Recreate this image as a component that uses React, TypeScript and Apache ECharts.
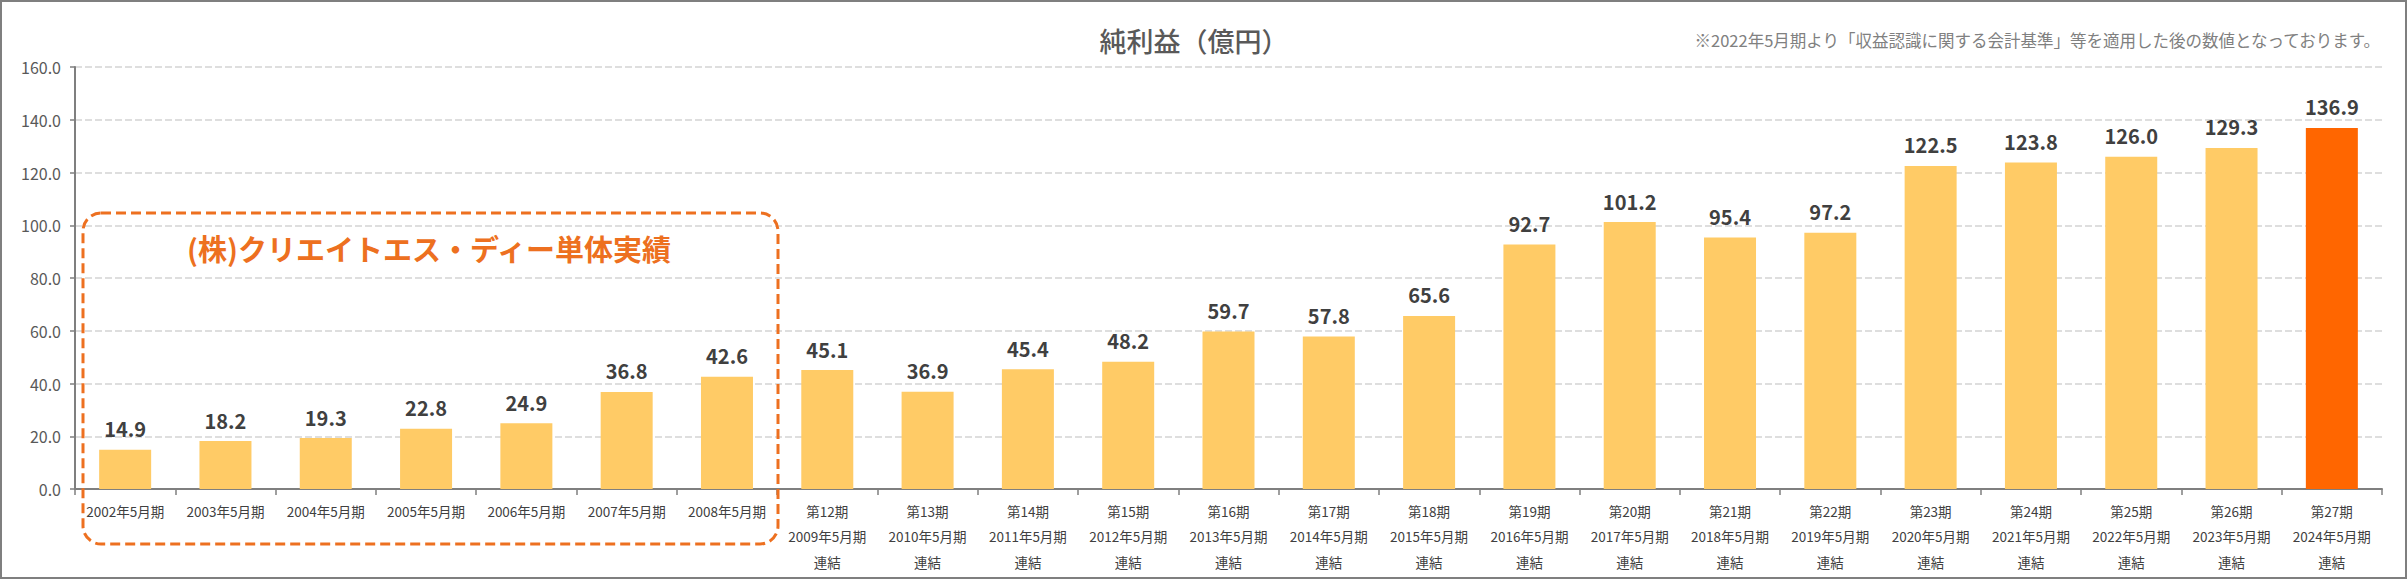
import React, { useEffect, useRef } from "react";
import * as echarts from "echarts";

const categories: string[] = [
  "2002年5月期",
  "2003年5月期",
  "2004年5月期",
  "2005年5月期",
  "2006年5月期",
  "2007年5月期",
  "2008年5月期",
  "第12期\n2009年5月期\n連結",
  "第13期\n2010年5月期\n連結",
  "第14期\n2011年5月期\n連結",
  "第15期\n2012年5月期\n連結",
  "第16期\n2013年5月期\n連結",
  "第17期\n2014年5月期\n連結",
  "第18期\n2015年5月期\n連結",
  "第19期\n2016年5月期\n連結",
  "第20期\n2017年5月期\n連結",
  "第21期\n2018年5月期\n連結",
  "第22期\n2019年5月期\n連結",
  "第23期\n2020年5月期\n連結",
  "第24期\n2021年5月期\n連結",
  "第25期\n2022年5月期\n連結",
  "第26期\n2023年5月期\n連結",
  "第27期\n2024年5月期\n連結",
];

const netIncome: number[] = [
  14.9, 18.2, 19.3, 22.8, 24.9, 36.8, 42.6, 45.1, 36.9, 45.4, 48.2, 59.7, 57.8,
  65.6, 92.7, 101.2, 95.4, 97.2, 122.5, 123.8, 126.0, 129.3, 136.9,
];

const titleText = "純利益（億円）";
const noteText =
  "※2022年5月期より「収益認識に関する会計基準」等を適用した後の数値となっております。";
const boxLabel = "(株)クリエイトエス・ディー単体実績";

const FONT = '"Noto Sans CJK JP", "Noto Sans", sans-serif';

export default function App() {
  const ref = useRef<HTMLDivElement>(null);

  useEffect(() => {
    if (!ref.current) return;
    const chart = echarts.init(ref.current, undefined, { renderer: "svg" });
    const last = netIncome.length - 1;
    chart.setOption({
      animation: false,
      textStyle: { fontFamily: FONT },
      grid: { left: 75, right: 25, top: 67, bottom: 90, containLabel: false },
      xAxis: {
        type: "category",
        data: categories,
        axisLine: { show: true, lineStyle: { color: "#7f7f7f", width: 2 } },
        axisTick: { show: true, length: 6, lineStyle: { color: "#7f7f7f", width: 1.5 } },
        axisLabel: {
          interval: 0,
          color: "#404040",
          fontSize: 13.5,
          fontFamily: FONT,
          lineHeight: 25.5,
          margin: 9,
        },
      },
      yAxis: {
        type: "value",
        min: 0,
        max: 160,
        interval: 20,
        axisLine: { show: true, lineStyle: { color: "#7f7f7f", width: 2 } },
        axisTick: { show: true, length: 5, lineStyle: { color: "#7f7f7f", width: 1.5 } },
        axisLabel: {
          color: "#595959",
          fontSize: 16,
          fontFamily: FONT,
          margin: 14,
          formatter: (v: number) => v.toFixed(1),
        },
        splitLine: {
          show: true,
          lineStyle: { color: "#d4d4d4", width: 1.5, type: [7, 3] },
        },
      },
      series: [
        {
          type: "bar",
          data: netIncome,
          barWidth: 52,
          itemStyle: {
            color: (p: any) => (p.dataIndex === last ? "#FF6600" : "#FFCB66"),
          },
          label: {
            show: true,
            position: "top",
            distance: 11,
            color: "#404040",
            fontSize: 20,
            fontWeight: "bold",
            fontFamily: FONT,
            formatter: (p: any) => Number(p.value).toFixed(1),
          },
        },
      ],
      graphic: [
        {
          type: "rect",
          shape: { x: 1, y: 1, width: 2405, height: 577 },
          style: { fill: "none", stroke: "#7f7f7f", lineWidth: 2 },
          silent: true,
          z: 100,
        },
        {
          type: "text",
          x: 1194,
          y: 40,
          style: {
            text: titleText,
            fontSize: 27,
            fontWeight: 500,
            fontFamily: FONT,
            fill: "#595959",
            align: "center",
            verticalAlign: "middle",
          },
        },
        {
          type: "text",
          x: 2380,
          y: 40,
          style: {
            text: noteText,
            fontSize: 16.5,
            fontFamily: FONT,
            fill: "#808080",
            align: "right",
            verticalAlign: "middle",
          },
        },
        {
          type: "rect",
          shape: { x: 83, y: 213, width: 695, height: 331, r: 18 },
          style: {
            fill: "none",
            stroke: "#ED7020",
            lineWidth: 3,
            lineDash: [10, 5],
          },
          silent: true,
          z: 50,
        },
        {
          type: "text",
          x: 429,
          y: 248,
          style: {
            text: boxLabel,
            fontSize: 29,
            fontWeight: "bold",
            fontFamily: FONT,
            fill: "#ED7020",
            align: "center",
            verticalAlign: "middle",
          },
          z: 50,
        },
      ],
    });
    return () => chart.dispose();
  }, []);

  return (
    <div
      ref={ref}
      style={{
        position: "fixed",
        left: 0,
        top: 0,
        width: 2407,
        height: 579,
        background: "#ffffff",
      }}
    />
  );
}
